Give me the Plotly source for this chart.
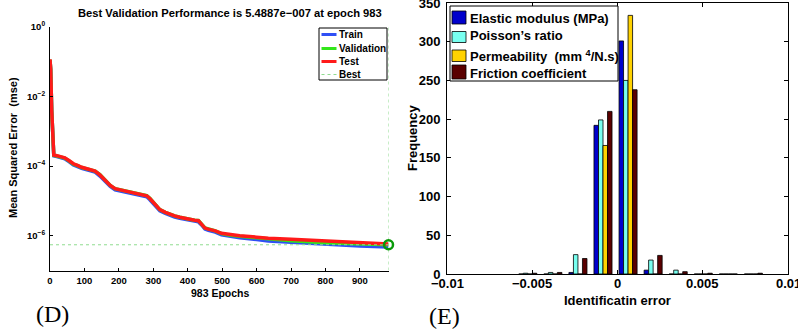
import plotly.graph_objects as go

# ---------------- data: (D) training performance ----------------
epochs = [0, 2, 5, 8, 11, 20, 30, 43, 55, 68, 80, 92, 110, 131, 145, 160, 175, 189, 210, 232,
          255, 281, 290, 300, 310, 319, 335, 348, 362, 377, 400, 420, 431, 440, 450, 460, 469,
          480, 498, 520, 551, 600, 634, 700, 803, 900, 983]
test_mse = [0.1175, 0.063, 3.98e-3, 3.16e-4, 2.09e-4, 2.0e-4, 1.91e-4, 1.74e-4, 1.45e-4, 1.17e-4,
            1.05e-4, 9.3e-5, 8.3e-5, 7.2e-5, 5.6e-5, 3.9e-5, 2.8e-5, 2.24e-5, 2.0e-5, 1.78e-5,
            1.58e-5, 1.41e-5, 1.17e-5, 9.3e-6, 7.4e-6, 5.6e-6, 4.7e-6, 4.1e-6, 3.7e-6, 3.4e-6,
            3.0e-6, 2.8e-6, 2.7e-6, 2.2e-6, 1.66e-6, 1.55e-6, 1.48e-6, 1.38e-6, 1.17e-6, 1.07e-6,
            1.0e-6, 9.1e-7, 8.5e-7, 7.9e-7, 6.9e-7, 6.3e-7, 5.75e-7]
val_mse = [0.115, 0.062, 3.9e-3, 3.1e-4, 2.05e-4, 1.96e-4, 1.87e-4, 1.70e-4, 1.42e-4, 1.14e-4,
           1.03e-4, 9.1e-5, 8.2e-5, 7.2e-5, 5.7e-5, 3.9e-5, 2.8e-5, 2.25e-5, 2.0e-5, 1.78e-5,
           1.58e-5, 1.42e-5, 1.19e-5, 9.4e-6, 7.5e-6, 5.6e-6, 4.7e-6, 4.1e-6, 3.7e-6, 3.4e-6,
           3.0e-6, 2.8e-6, 2.75e-6, 2.25e-6, 1.68e-6, 1.57e-6, 1.50e-6, 1.38e-6, 1.15e-6, 1.04e-6,
           9.6e-7, 8.6e-7, 7.9e-7, 7.2e-7, 6.3e-7, 5.8e-7, 5.4887e-7]
train_mse = [0.112, 0.06, 3.8e-3, 3.0e-4, 1.98e-4, 1.88e-4, 1.8e-4, 1.63e-4, 1.35e-4, 1.08e-4,
             9.7e-5, 8.6e-5, 7.7e-5, 6.7e-5, 5.2e-5, 3.6e-5, 2.6e-5, 2.08e-5, 1.86e-5, 1.66e-5,
             1.47e-5, 1.31e-5, 1.08e-5, 8.6e-6, 6.8e-6, 5.2e-6, 4.35e-6, 3.8e-6, 3.45e-6, 3.15e-6,
             2.8e-6, 2.6e-6, 2.5e-6, 2.05e-6, 1.55e-6, 1.44e-6, 1.37e-6, 1.27e-6, 1.06e-6, 9.6e-7,
             8.8e-7, 7.8e-7, 7.1e-7, 6.5e-7, 5.6e-7, 5.1e-7, 4.75e-7]
best_epoch = 983
best_perf = 5.4887e-7
perf_yrange = [1e-7, 1e0]
epoch_ticks = [0, 100, 200, 300, 400, 500, 600, 700, 800, 900]
mse_tickvals = [1e0, 1e-2, 1e-4, 1e-6]
mse_ticktext = ["10<sup>0</sup>", "10<sup>−2</sup>", "10<sup>−4</sup>", "10<sup>−6</sup>"]

# ---------------- data: (E) error histogram ----------------
bin_centers = [-0.00526, -0.00379, -0.00232, -0.00085, 0.00062, 0.00209, 0.00356, 0.00503, 0.0065, 0.00797]
elastic = [0, 0, 2, 192, 301, 5, 0, 0, 0, 0]
poisson = [1, 2, 25, 199, 250, 18, 5, 0, 0, 0]
permeab = [0, 0, 0, 166, 334, 0, 0, 0, 0, 0]
friction = [1, 2, 20, 210, 238, 24, 3, 1, 0, 1]
hist_names = ["Elastic modulus (MPa)", "Poisson’s ratio", "Permeability  (mm <sup>4</sup>/N.s)", "Friction coefficient"]
err_tickvals = [-0.01, -0.005, 0, 0.005, 0.01]
err_ticktext = ["−0.01", "−0.005", "0", "0.005", "0.01"]
freq_ticks = [0, 50, 100, 150, 200, 250, 300, 350]

# ---------------- styling ----------------
W, H = 798, 336
SANS = "Liberation Sans, Arial, sans-serif"
SERIF = "Liberation Serif, DejaVu Serif, serif"
C_TRAIN, C_VAL, C_TEST, C_BEST = "#2f4ff5", "#33e61a", "#ff1a1a", "#8fdc8f"
BAR_COLORS = ["#0000cc", "#78fff0", "#ffd200", "#5a0000"]


def px(x):
    return x / W


def py(y):
    return 1 - y / H


def f(size, family=SANS, bold=True):
    d = dict(family=family, size=size, color="black")
    if bold:
        d["weight"] = "bold"
    return d


fig = go.Figure()

# left panel curves
fig.add_trace(go.Scatter(x=epochs, y=train_mse, mode="lines", line=dict(color=C_TRAIN, width=3.5),
                         xaxis="x", yaxis="y", showlegend=False, name="Train"))
fig.add_trace(go.Scatter(x=epochs, y=val_mse, mode="lines", line=dict(color=C_VAL, width=3.5),
                         xaxis="x", yaxis="y", showlegend=False, name="Validation"))
fig.add_trace(go.Scatter(x=epochs, y=test_mse, mode="lines", line=dict(color=C_TEST, width=3.5),
                         xaxis="x", yaxis="y", showlegend=False, name="Test"))
fig.add_trace(go.Scatter(x=[0, best_epoch], y=[best_perf, best_perf], mode="lines",
                         line=dict(color=C_BEST, width=1, dash="dot"), xaxis="x", yaxis="y", showlegend=False))
fig.add_trace(go.Scatter(x=[best_epoch, best_epoch], y=perf_yrange, mode="lines",
                         line=dict(color=C_BEST, width=1, dash="dot"), xaxis="x", yaxis="y", showlegend=False))
fig.add_trace(go.Scatter(x=[best_epoch], y=[best_perf], mode="markers",
                         marker=dict(symbol="circle-open", size=9, color="#0a9a0a", line=dict(width=2.5)),
                         xaxis="x", yaxis="y", showlegend=False, cliponaxis=False))

# right panel bars
for vals, nm, col in zip([elastic, poisson, permeab, friction], hist_names, BAR_COLORS):
    fig.add_trace(go.Bar(x=bin_centers, y=vals, name=nm, marker=dict(color=col, line=dict(color="black", width=0.8)),
                         xaxis="x2", yaxis="y2", showlegend=False))

tick_l = f(9.5)
common = dict(showline=True, linecolor="black", linewidth=1, ticks="inside", tickcolor="black",
              showgrid=False, zeroline=False, automargin=False, ticklabeloverflow="allow")

fig.update_layout(
    width=W, height=H, margin=dict(l=0, r=0, t=0, b=0),
    paper_bgcolor="white", plot_bgcolor="white",
    hovermode=False, dragmode=False, showlegend=False,
    barmode="group", bargap=0.28, bargroupgap=0,
    xaxis=dict(domain=[px(50), px(388.5)], range=[0, best_epoch], tickvals=epoch_ticks, ticklen=3,
               tickfont=tick_l, anchor="y", ticklabelstandoff=1, **common),
    yaxis=dict(domain=[py(270.5), py(27)], type="log", range=[-7, 0], tickvals=mse_tickvals, ticktext=mse_ticktext,
               ticklen=3, tickfont=tick_l, anchor="x", ticklabelstandoff=2, **common),
    xaxis2=dict(domain=[px(447), px(788)], range=[-0.01, 0.01], tickvals=err_tickvals, showticklabels=False,
                mirror="ticks", ticklen=4, anchor="y2", **common),
    yaxis2=dict(domain=[py(274), py(3)], range=[0, 350], tickvals=freq_ticks,
                mirror="ticks", ticklen=4, tickfont=f(13), anchor="x2", ticklabelstandoff=3, **common),
)

ann = []
# titles and labels
ann.append(dict(x=px(230), y=py(13), text="Best Validation Performance is 5.4887e−007 at epoch 983", font=f(11.2)))
ann.append(dict(x=px(220), y=py(293), text="983 Epochs", font=f(10.5)))
ann.append(dict(x=px(13), y=py(148), text="Mean Squared Error  (mse)", textangle=-90, font=f(11)))
ann.append(dict(x=px(617), y=py(300), text="Identificatin error", font=f(13)))
ann.append(dict(x=px(412), y=py(138), text="Frequency", textangle=-90, font=f(13)))
ann.append(dict(x=px(52), y=py(314), text="(D)", font=f(24, SERIF, False)))
ann.append(dict(x=px(444), y=py(316), text="(E)", font=f(24, SERIF, False)))

shapes = []
# left legend (drawn compactly like the original)
shapes.append(dict(type="rect", xref="paper", yref="paper", x0=px(319), x1=px(387), y0=py(80), y1=py(28),
                   line=dict(color="black", width=1), fillcolor="white", layer="above"))
leg_l = [("Train", C_TRAIN, "solid", 34.5), ("Validation", C_VAL, "solid", 48.5),
         ("Test", C_TEST, "solid", 61.5), ("Best", C_BEST, "dot", 74.5)]
for txt, col, dash, yy in leg_l:
    shapes.append(dict(type="line", xref="paper", yref="paper", x0=px(321.5), x1=px(336.5), y0=py(yy), y1=py(yy),
                       line=dict(color=col, width=3 if dash == "solid" else 1.2, dash=dash), layer="above"))
    ann.append(dict(x=px(337), y=py(yy), text=txt, xanchor="left", font=f(10)))

# right legend
shapes.append(dict(type="rect", xref="paper", yref="paper", x0=px(450), x1=px(618), y0=py(81), y1=py(6),
                   line=dict(color="black", width=1), fillcolor="white", layer="above"))
leg_r_y = [(11, 24, 18), (31.5, 42.5, 36), (50, 61.5, 56.5), (65, 79, 73.5)]
for (y0, y1, yt), nm, col in zip(leg_r_y, hist_names, BAR_COLORS):
    shapes.append(dict(type="rect", xref="paper", yref="paper", x0=px(452), x1=px(466), y0=py(y1), y1=py(y0),
                       line=dict(color="black", width=0.8), fillcolor=col, layer="above"))
    ann.append(dict(x=px(468), y=py(yt), text=nm, xanchor="left", font=f(13)))

# x tick labels of the histogram, placed on the x2 data scale (drawn last, on top)
for v, t in zip(err_tickvals, err_ticktext):
    ann.append(dict(x=v, xref="x2", y=py(283), text=t, font=f(13), xanchor="center"))

for a in ann:
    a.setdefault("xref", "paper")
    a.update(yref="paper", showarrow=False)
    a.setdefault("xanchor", "center")
    a.setdefault("yanchor", "middle")

fig.update_layout(annotations=ann, shapes=shapes)
fig.write_html("out.html")
